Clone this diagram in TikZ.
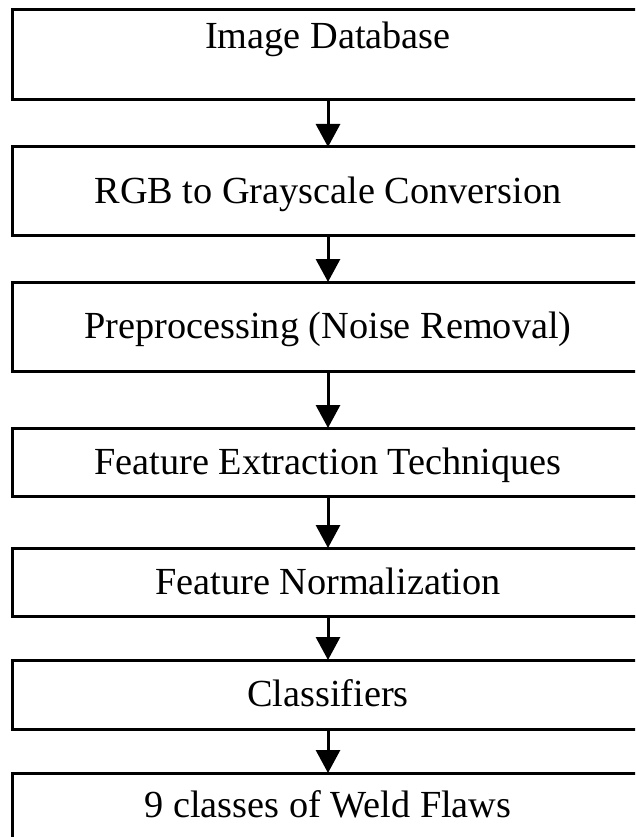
\documentclass[tikz,border=0pt]{standalone}
\usepackage{fontspec}
\setmainfont{Liberation Serif}
\usepackage{tikz}
\usetikzlibrary{positioning,arrows.meta}

\begin{document}
\begin{tikzpicture}[
	x=1pt, y=-1pt,
	stage/.style={
		draw, line width=3pt, minimum width=631pt, inner sep=0pt, outer sep=0pt,
		font=\fontsize{38.3}{40}\selectfont, text height=24.5pt, text depth=0pt,
		anchor=center
	},
	flow/.style={
		line width=3pt, -{Triangle[width=24pt,length=23pt]}
	}
	]
	\useasboundingbox (0,0) rectangle (635,837);
	\clip (0,0) rectangle (635,837);
	
	% stages of the pipeline
	\node[stage, minimum height=90pt, text depth=36.5pt] (db) at (328,55) {Image Database};
	\node[stage, minimum height=88pt] (gray) at (328,191) {RGB to Grayscale Conversion};
	\node[stage, minimum height=89pt] (pre) at (328,326.5) {Preprocessing (Noise Removal)};
	\node[stage, minimum height=68pt] (feat) at (328,462) {Feature Extraction Techniques};
	\node[stage, minimum height=68pt] (norm) at (328,582) {Feature Normalization};
	\node[stage, minimum height=69pt] (cls) at (328,694.5) {Classifiers};
	\node[stage, minimum height=88pt, text depth=24.5pt] (flaws) at (328,817) {9 classes of Weld Flaws};
	
	% arrows between the stages
	\foreach \a/\b in {db/gray, gray/pre, pre/feat, feat/norm, norm/cls, cls/flaws} {
		\draw[flow] (\a) -- (\b);
	}
\end{tikzpicture}
\end{document}
